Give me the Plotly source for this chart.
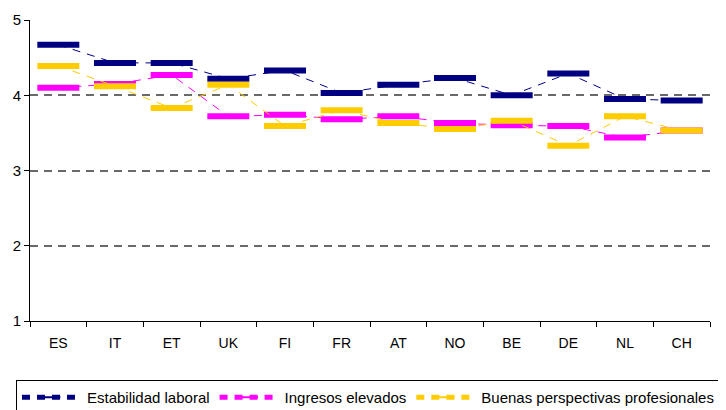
import plotly.graph_objects as go

countries = ["ES", "IT", "ET", "UK", "FI", "FR", "AT", "NO", "BE", "DE", "NL", "CH"]
estabilidad = [4.67, 4.43, 4.43, 4.22, 4.33, 4.03, 4.14, 4.23, 4.00, 4.29, 3.95, 3.93]
ingresos = [4.10, 4.15, 4.27, 3.72, 3.74, 3.68, 3.72, 3.63, 3.60, 3.59, 3.44, 3.53]
perspectivas = [4.39, 4.12, 3.83, 4.14, 3.59, 3.80, 3.63, 3.55, 3.66, 3.33, 3.72, 3.53]

series = [
    ("Estabilidad laboral", estabilidad, "#000080"),
    ("Ingresos elevados", ingresos, "#FF00FF"),
    ("Buenas perspectivas profesionales", perspectivas, "#FFCC00"),
]

fig = go.Figure()
for name, vals, col in series:
    fig.add_trace(go.Scatter(
        x=countries, y=vals, name=name, mode="lines+markers",
        line=dict(color=col, width=1, dash="8px,7px"),
        marker=dict(symbol="line-ew", size=30, line=dict(color=col, width=6)),
    ))

fig.update_layout(
    width=718, height=402,
    margin=dict(l=22, r=16, t=12, b=89, autoexpand=False),
    plot_bgcolor="white", paper_bgcolor="white",
    font=dict(family="Liberation Sans, Arial, sans-serif", size=14, color="black"),
    showlegend=True,
    legend=dict(orientation="h", x=-0.0206, y=-0.196, xanchor="left", yanchor="top",
                bordercolor="black", borderwidth=1, font=dict(size=15),
                itemwidth=60, itemsizing="constant", tracegroupgap=0),
)
fig.update_xaxes(
    type="category", showline=True, linecolor="black", linewidth=1,
    ticks="outside", tickson="boundaries", ticklen=5, tickcolor="black",
    ticklabelstandoff=9,
    showgrid=False, range=[-0.5, 11.5],
)
fig.update_yaxes(
    range=[1, 5], tickvals=[1, 2, 3, 4, 5], showline=True, linecolor="black",
    linewidth=1, ticks="outside", ticklen=5, tickcolor="black",
    tickfont=dict(size=15),
    showgrid=True, gridcolor="#6a6a6a", griddash="8px,6px", gridwidth=1.5,
    zeroline=False,
)

fig.write_html("out.html")
